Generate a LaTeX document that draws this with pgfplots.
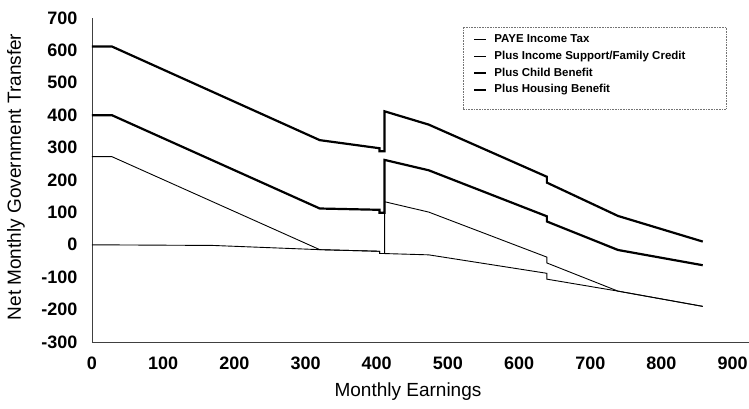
\documentclass[border=0pt]{standalone}
\usepackage{fontspec}
\setmainfont{Liberation Sans}
\usepackage{pgfplots}
\pgfplotsset{compat=1.18}
\begin{document}
\begin{tikzpicture}
\useasboundingbox (-92pt,-66pt) rectangle (657pt,342pt);
\begin{axis}[
  at={(0pt,0pt)}, anchor=south west,
  scale only axis, width=657pt, height=324pt,
  xmin=0, xmax=923, ymin=-300, ymax=700,
  axis x line*=bottom, axis y line*=left,
  axis line style={-, black!75, line width=0.9pt},
  major tick length=0pt,
  xtick={0,100,200,300,400,500,600,700,800,900},
  xticklabels={0,100,200,300,400,500,600,700,800,900},
  ytick={-300,-200,-100,0,100,200,300,400,500,600,700},
  yticklabels={-300,-200,-100,0,100,200,300,400,500,600,700},
  tick label style={font=\bfseries\fontsize{18}{18}\selectfont},
  xticklabel style={anchor=north, yshift=-11pt},
  yticklabel style={anchor=east, xshift=-11pt},
  clip=false,
  legend cell align=left,
  legend image code/.code={\draw[#1] (0pt,0pt) -- (12pt,0pt);},
  legend style={at={(axis description cs:0.5799,0.9506)}, anchor=north west,
    draw=none, fill=none, inner sep=0pt, row sep=5.7pt, column sep=7pt,
    font=\bfseries\fontsize{11.5}{13}\selectfont,
    nodes={inner sep=0pt, text height=8.5pt, text depth=2.5pt}},
]
\addplot[black, line width=0.9pt] coordinates {
 (0,0) (170,-2) (320,-15) (404,-20) (404,-27) (411,-27) (473,-31)
 (639,-88) (639,-106) (739,-143) (858,-190)};
\addlegendentry{PAYE Income Tax}
\addplot[black, line width=0.9pt] coordinates {
 (0,272) (28,272) (320,-15) (404,-20) (404,-27) (411,-27) (411,133)
 (473,101) (639,-38) (639,-56) (739,-143) (858,-190)};
\addlegendentry{Plus Income Support/Family Credit}
\addplot[black, line width=2.2pt] coordinates {
 (0,400) (28,400) (320,112) (404,108) (404,99) (411,99) (411,262)
 (473,230) (639,88) (639,72) (739,-16) (858,-63)};
\addlegendentry{Plus Child Benefit}
\addplot[black, line width=2.2pt] coordinates {
 (0,612) (28,612) (320,323) (404,298) (404,289) (411,289) (411,412)
 (473,371) (639,210) (639,192) (739,89) (858,10)};
\addlegendentry{Plus Housing Benefit}
\draw[black!55, densely dotted, line width=0.6pt]
 (axis description cs:0.5647,0.719) rectangle (axis description cs:0.965,0.972);
\end{axis}
\node[rotate=90, font=\fontsize{19}{19}\selectfont] at (-76pt,165pt) {Net Monthly Government Transfer};
\node[font=\fontsize{19}{19}\selectfont] at (316pt,-50pt) {Monthly Earnings};
\end{tikzpicture}
\end{document}
